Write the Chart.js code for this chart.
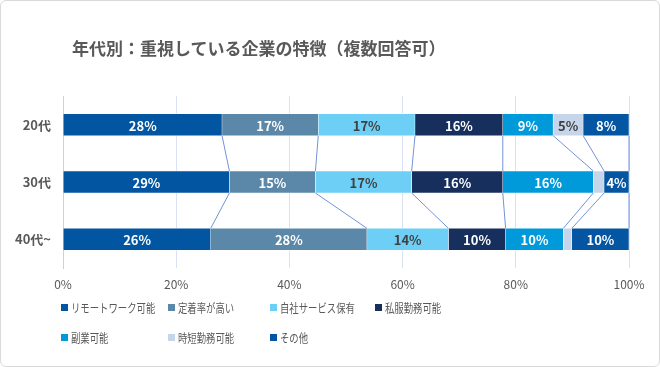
<!DOCTYPE html>
<html lang="ja">
<head>
<meta charset="utf-8">
<script src="https://cdn.jsdelivr.net/npm/chart.js@4.4.1/dist/chart.umd.min.js"></script>
<style>
  html, body { margin: 0; padding: 0; background: #fff; }
  #wrap {
    position: relative; width: 660px; height: 367px; box-sizing: border-box;
    border: 1px solid #d9d9d9; border-radius: 6px; overflow: hidden;
    font-family: "Noto Sans CJK JP", "Noto Sans", sans-serif;
  }
  #chart { position: absolute; left: 0; top: 0; }
  #title {
    position: absolute; left: 71px; top: 34px; font-size: 17px; font-weight: bold;
    color: #595959; white-space: nowrap;
  }
  .lg {
    position: absolute; font-size: 12px; color: #595959; white-space: nowrap;
    display: flex; align-items: center;
  }
  .lg i { display: inline-block; width: 7px; height: 7px; margin-right: 3px; }
  .lg span { display: inline-block; transform: scaleX(0.78); transform-origin: left center; }
</style>
</head>
<body>
<div id="wrap">
  <canvas id="chart" width="658" height="365"></canvas>
  <div id="title">年代別：重視している企業の特徴（複数回答可）</div>
  <div id="legend"></div>
</div>
<script>
// 年代カテゴリ
const ageGroups = ['20代', '30代', '40代~'];

// 各項目の割合（%）
const remoteWork   = [28.1, 29.4, 26.1];
const retention    = [17.0, 15.2, 27.6];
const ownService   = [17.1, 17.0, 14.4];
const casualDress  = [15.5, 16.1, 10.1];
const sideJob      = [8.9, 16.0, 10.2];
const shortHours   = [5.3, 1.9, 1.5];
const others       = [8.1, 4.4, 10.1];

const xTicks = [0, 20, 40, 60, 80, 100];

const seriesNames = ['リモートワーク可能', '定着率が高い', '自社サービス保有', '私服勤務可能', '副業可能', '時短勤務可能', 'その他'];
const seriesValues = [remoteWork, retention, ownService, casualDress, sideJob, shortHours, others];
const colors = ['#0255a0', '#5b87a8', '#6dcff6', '#172f5c', '#0099da', '#c6d5ea', '#0456a3'];
const labelColors = ['#fff', '#fff', '#404040', '#fff', '#fff', '#404040', '#fff'];

const datasets = seriesNames.map((name, i) => ({
    label: name,
    data: seriesValues[i],
    backgroundColor: colors[i],
    borderColor: '#ffffff',
    borderWidth: 0.6,
    barThickness: 22
}));

// 系列線（バー同士をつなぐ線）
const seriesLinePlugin = {
    id: 'seriesLines',
    afterDatasetsDraw(chart) {
        const ctx = chart.ctx;
        ctx.save();
        ctx.strokeStyle = '#7392da';
        ctx.lineWidth = 1;
        chart.data.datasets.forEach((ds, i) => {
            const bars = chart.getDatasetMeta(i).data;
            for (let j = 0; j < bars.length - 1; j++) {
                const a = bars[j], b = bars[j + 1];
                ctx.beginPath();
                ctx.moveTo(a.x, a.y + a.height / 2);
                ctx.lineTo(b.x, b.y - b.height / 2);
                ctx.stroke();
            }
        });
        ctx.restore();
    }
};

// バー中央のラベル
const barLabelPlugin = {
    id: 'barLabels',
    afterDatasetsDraw(chart) {
        const ctx = chart.ctx;
        ctx.save();
        ctx.font = 'bold 13px "Noto Sans CJK JP", sans-serif';
        ctx.textAlign = 'center';
        ctx.textBaseline = 'middle';
        chart.data.datasets.forEach((ds, i) => {
            chart.getDatasetMeta(i).data.forEach((bar, j) => {
                const v = ds.data[j];
                if (v < 3) return;
                ctx.fillStyle = labelColors[i];
                ctx.fillText(Math.round(v) + '%', (bar.x + bar.base) / 2, bar.y + 1);
            });
        });
        ctx.restore();
    }
};

new Chart(document.getElementById('chart'), {
    type: 'bar',
    data: { labels: ageGroups, datasets: datasets },
    options: {
        indexAxis: 'y',
        responsive: false,
        animation: false,
        layout: { padding: { left: 0, right: 30, top: 95, bottom: 0 } },
        scales: {
            x: {
                stacked: true,
                min: 0,
                max: 100,
                afterBuildTicks: (scale) => { scale.ticks = xTicks.map(v => ({ value: v })); },
                afterFit: (scale) => { scale.height = 98; },
                grid: { color: (c) => c.index === 0 ? '#d0d0d0' : '#d9e1f2', drawTicks: false },
                border: { display: false },
                ticks: {
                    padding: 9,
                    color: '#595959',
                    font: { family: '"Noto Sans CJK JP", sans-serif', size: 12 },
                    callback: (v) => v + '%'
                }
            },
            y: {
                stacked: true,
                afterFit: (scale) => { scale.width = 62; },
                grid: { display: false, drawTicks: false },
                border: { color: '#d0d0d0' },
                ticks: {
                    padding: 12,
                    color: '#595959',
                    font: { family: '"Noto Sans CJK JP", sans-serif', size: 13, weight: 'bold' }
                }
            }
        },
        plugins: {
            legend: { display: false },
            tooltip: { enabled: false }
        }
    },
    plugins: [seriesLinePlugin, barLabelPlugin]
});

// 凡例（Excel風の格子配置）
const legendCols = [60, 167, 269, 374];
const legendRows = [298, 328];
const legendBox = document.getElementById('legend');
seriesNames.forEach((name, i) => {
    const el = document.createElement('div');
    el.className = 'lg';
    el.style.left = legendCols[i % 4] + 'px';
    el.style.top = legendRows[Math.floor(i / 4)] + 'px';
    el.innerHTML = '<i style="background:' + colors[i] + '"></i><span>' + name + '</span>';
    legendBox.appendChild(el);
});
</script>
</body>
</html>
